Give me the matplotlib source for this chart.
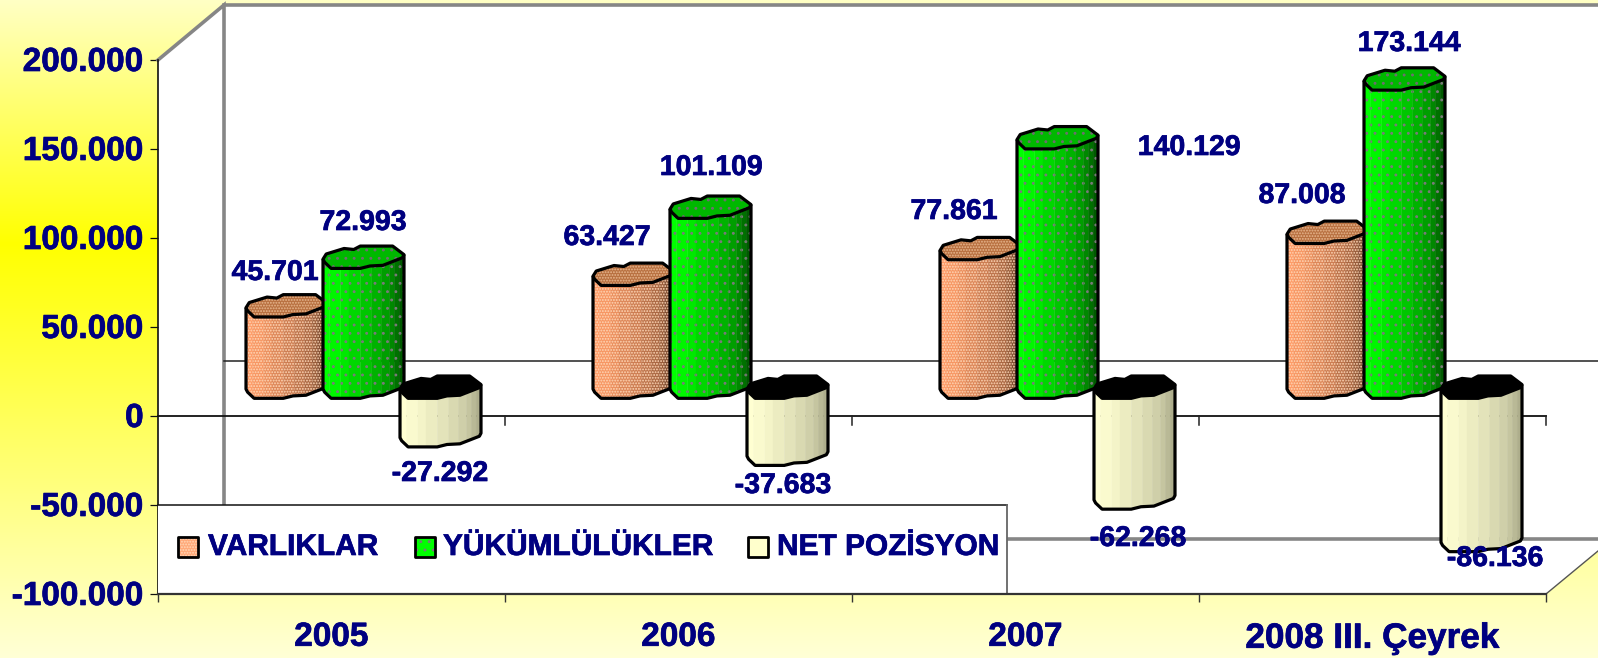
import numpy as np
import matplotlib
matplotlib.use("Agg")
import matplotlib.pyplot as plt
import matplotlib.patheffects as pe
from matplotlib.patches import Polygon, Rectangle
from matplotlib.colors import LinearSegmentedColormap, to_rgb
from matplotlib.transforms import ScaledTranslation

plt.rcParams['font.family'] = ['Liberation Sans', 'DejaVu Sans']
plt.rcParams['hatch.linewidth'] = 0.9

categories = ['2005', '2006', '2007', '2008 III. Çeyrek']
varliklar = [45701, 63427, 77861, 87008]
yukumluluk = [72993, 101109, 140129, 173144]
net_pozisyon = [-27292, -37683, -62268, -86136]
series_names = ['VARLIKLAR', 'YÜKÜMLÜLÜKLER', 'NET POZİSYON']
y_ticks = [-100000, -50000, 0, 50000, 100000, 150000, 200000]

W, H = 1598, 658
NAVY = '#000080'
BOLD = [pe.withStroke(linewidth=0.5, foreground=NAVY)]
fig = plt.figure(figsize=(W / 100, H / 100), dpi=100)

# background gradient
bg = fig.add_axes([0, 0, 1, 1], zorder=0)
bg.axis('off')
cmap = LinearSegmentedColormap.from_list('g', [(0, '#FFFFC4'), (0.37, '#FFFF00'), (1, '#FFFFD6')])
bg.imshow(np.linspace(0, 1, 256)[:, None], cmap=cmap, aspect='auto', extent=[0, 1, 0, 1])

L, R, TOP, BOT = 158, 1546, 60, 594
ax = fig.add_axes([L / W, 1 - BOT / H, (R - L) / W, (BOT - TOP) / H], zorder=1)
ax.set_xlim(0, 4)
ax.set_ylim(-100000, 200000)
ax.patch.set_visible(False)
PX = 4 / (R - L)
PY = 300000 / (BOT - TOP)
DX, DY = 66 * PX, 55 * PY   # depth of the 3D box
XEND = 4 + 60 * PX


def poly(pts, closed=True, **kw):
    kw.setdefault('clip_on', False)
    p = Polygon(pts, closed=closed, **kw)
    ax.add_patch(p)
    return p


# walls and floor
ymin, ymax = -100000, 200000
poly([(0, ymin), (DX, ymin + DY), (DX, ymax + DY), (0, ymax)], fc='white', ec='none', zorder=1)
poly([(DX, ymin + DY), (XEND, ymin + DY), (XEND, ymax + DY), (DX, ymax + DY)], fc='white', ec='none', zorder=1)
poly([(0, ymin), (DX, ymin + DY), (XEND, ymin + DY), (4 + 52 * PX, ymin + 43 * PY), (4, ymin)],
     fc='white', ec='none', zorder=1)
G = '#868686'
ax.plot([0, DX, DX], [ymax, ymax + DY, ymin + DY], color=G, lw=2.6, zorder=2, clip_on=False, solid_joinstyle='miter')
ax.plot([DX, XEND], [ymax + DY, ymax + DY], color=G, lw=2.6, zorder=2, clip_on=False)
ax.plot([DX, XEND], [ymin + DY, ymin + DY], color=G, lw=2.6, zorder=2, clip_on=False)
ax.plot([DX, XEND], [DY, DY], color='#222222', lw=1.1, zorder=2, clip_on=False)
ax.plot([4, 4 + 52 * PX], [ymin, ymin + 43 * PY], color='#555555', lw=1.0, zorder=2, clip_on=False)

# front axis lines
ax.plot([0, 4], [0, 0], color='#111111', lw=1.3, zorder=3, clip_on=False)
for c in range(1, 5):
    ax.plot([c, c], [0, -9 * PY], color='#222222', lw=1.1, zorder=3, clip_on=False)

# bars
STYLES = [
    dict(light='#FF9C68', dark='#70442A', top='#B87040', hatch='......', hc='#FFD8B8', chc='#E8B890'),
    dict(light='#00FF00', dark='#005A00', top='#00B800', hatch='..', hc='#7A7A7A', chc='#6E6E6E'),
    dict(light='#FFFFD2', dark='#AEAE8C', top='#000000', hatch=None, hc='none', chc='none'),
]
# outline of the faceted cylinder cross-section, unit half width / half height
FRONT_U = np.array([-1.00, -0.96, -0.80, -0.08, 0.16, 0.48, 0.96, 1.00])
FRONT_V = np.array([-0.19, -0.47, -1.03, -1.03, -0.81, -0.75, -0.06, 0.22])
BACK_U = np.array([1.00, 0.72, -0.08, -0.24, -0.48, -0.92, -1.00])
BACK_V = np.array([0.22, 1.00, 1.00, 0.69, 0.78, 0.28, -0.19])
BAND_U = np.array([-1.00, -0.84, -0.56, -0.36, -0.08, 0.20, 0.44, 0.64, 0.76, 0.88, 1.00])
HW, HH = 40.5 * PX, 11 * PY     # half width / half height of the section
CX, CY = 32 * PX, 29 * PY       # section centre relative to the front plane
BW = 77 * PX


def blend(a, b, t):
    a, b = np.array(to_rgb(a)), np.array(to_rgb(b))
    return tuple(a + (b - a) * t)


def cylinder(cx, v, st, z):
    y_top, y_base = max(v, 0), min(v, 0)
    X = cx + CX
    def front(u, y):
        return y + CY + HH * np.interp(u, FRONT_U, FRONT_V)
    for i in range(len(BAND_U) - 1):
        u0, u1 = BAND_U[i], BAND_U[i + 1]
        us = np.unique(np.r_[u0, u1, FRONT_U[(FRONT_U > u0) & (FRONT_U < u1)]])
        top = np.c_[X + HW * us, front(us, y_top)]
        base = np.c_[X + HW * us, front(us, y_base)]
        pts = np.vstack([top, base[::-1]])
        t = i / (len(BAND_U) - 2)
        col = blend(st['light'], st['dark'], t ** 1.3)
        poly(pts, fc=col, ec=col, lw=0.3, zorder=z)
        if st['hatch']:
            poly(pts, fc='none', ec=st['hc'], lw=0, hatch=st['hatch'], zorder=z)
    base_line = np.c_[X + HW * FRONT_U, front(FRONT_U, y_base)]
    top_l = [X + HW * FRONT_U[0], front(FRONT_U[0], y_top)]
    top_r = [X + HW * FRONT_U[-1], front(FRONT_U[-1], y_top)]
    outline = np.vstack([top_l, base_line, top_r])
    poly(outline, closed=False, fc='none', ec='black', lw=2.3, zorder=z + 0.2, joinstyle='round')
    cap = np.vstack([np.c_[X + HW * FRONT_U, y_top + CY + HH * FRONT_V],
                     np.c_[X + HW * BACK_U[1:-1], y_top + CY + HH * BACK_V[1:-1]]])
    if st['hatch']:
        poly(cap, fc=st['top'], ec='none', zorder=z + 0.1)
        poly(cap, fc='none', ec=st['chc'], lw=0, hatch=st['hatch'], zorder=z + 0.1)
        poly(cap, fc='none', ec='black', lw=2.3, zorder=z + 0.2, joinstyle='round')
    else:
        poly(cap, fc=st['top'], ec='black', lw=2.3, zorder=z + 0.2, joinstyle='round')


all_series = [varliklar, yukumluluk, net_pozisyon]
for c in range(len(categories)):
    for s, values in enumerate(all_series):
        cylinder(c + 0.5 + (s - 1) * BW, values[c], STYLES[s], 5 + c + s * 0.3)

# data label centres (pixels)
LABEL_XY = [
    [(275, 273), (607, 238), (954, 212), (1302, 196)],
    [(363, 223), (711, 168), (1189, 148), (1409, 44)],
    [(440, 474), (783, 486), (1138, 539), (1495, 559)],
]
for s, values in enumerate(all_series):
    for c, v in enumerate(values):
        px, py = LABEL_XY[s][c]
        ax.text((px - L) * PX, 200000 - (py - TOP) * PY, f'{v:,}'.replace(',', '.'),
                color=NAVY, fontsize=20.5, fontweight='bold', ha='center', va='center',
                zorder=20, clip_on=False, path_effects=BOLD)

# legend
ax.add_patch(Rectangle((0, -100000), (1007 - L) * PX, 50000, fc='white', ec='none', zorder=15, clip_on=False))
ax.plot([0, (1007 - L) * PX], [-50000, -50000], color='#111111', lw=1.1, zorder=15.5, clip_on=False)
ax.plot([(1007 - L) * PX] * 2, [-50000, -100000], color='#666666', lw=1.3, zorder=15.5, clip_on=False)
leg_boxes = [178, 415, 748]
leg_text = [208, 443, 777]
leg_colors = ['#FFA878', '#00FF00', '#FFFFCC']
for s, name in enumerate(series_names):
    st = STYLES[s]
    x0 = (leg_boxes[s] - L) * PX
    y0 = -75000 - 7 * PY
    w, h = 20 * PX, 20 * PY
    rect = [(x0, y0), (x0 + w, y0), (x0 + w, y0 + h), (x0, y0 + h)]
    poly(rect, fc=leg_colors[s], ec='none', zorder=16)
    if st['hatch']:
        poly(rect, fc='none', ec=st['hc'], lw=0, hatch=st['hatch'], zorder=16)
    poly(rect, fc='none', ec='black', lw=2.0, zorder=16.1, joinstyle='round')
    ax.text((leg_text[s] - L) * PX, -75000 + 2.5 * PY, name, color=NAVY, fontsize=21.5, fontweight='bold',
            ha='left', va='center', zorder=16, clip_on=False, path_effects=BOLD)

# axes, ticks
for sp in ['top', 'right']:
    ax.spines[sp].set_visible(False)
ax.spines['left'].set_color('#111111')
ax.spines['left'].set_linewidth(1.2)
ax.spines['left'].set_zorder(14)
ax.spines['bottom'].set_color('#333333')
ax.spines['bottom'].set_linewidth(1.6)
ax.spines['bottom'].set_zorder(16)
ax.set_yticks(y_ticks)
ax.set_yticklabels([f'{v:,}'.replace(',', '.') for v in y_ticks], color=NAVY, fontsize=24, fontweight='bold')
ax.tick_params(axis='y', length=5.8, width=0.9, color='#111111', pad=4.5)
for lbl in ax.get_yticklabels():
    lbl.set_path_effects(BOLD)
    lbl.set_transform(lbl.get_transform() + ScaledTranslation(0, 1 / 100, fig.dpi_scale_trans))
ax.set_xticks(range(5))
ax.set_xticklabels([''] * 5)
ax.tick_params(axis='x', which='major', length=6, width=1, color='#333333')
ax.set_xticks(np.arange(len(categories)) + 0.5, minor=True)
ax.set_xticklabels(categories, minor=True, color=NAVY, fontsize=24, fontweight='bold')
ax.tick_params(axis='x', which='minor', length=0, pad=20)
xlabels = ax.get_xticklabels(minor=True)
for lbl in xlabels:
    lbl.set_path_effects(BOLD)
xlabels[-1].set_fontsize(25.3)

fig.savefig('out.png', dpi=100)
